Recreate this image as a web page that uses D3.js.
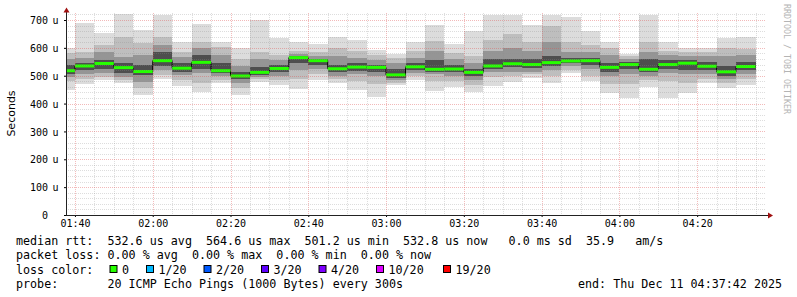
<!DOCTYPE html>
<html>
<head>
<meta charset="utf-8">
<script src="https://cdn.jsdelivr.net/npm/d3@7"></script>
<style>
  body { margin: 0; background: #fff; }
  svg { display: block; }
  text { font-family: "DejaVu Sans Mono", monospace; fill: #000; }
</style>
</head>
<body>
<svg id="chart" width="797" height="297"></svg>
<script>
// Data
const binStarts = ["01:35","01:40","01:45","01:50","01:55","02:00","02:05","02:10","02:15","02:20","02:25","02:30",
  "02:35","02:40","02:45","02:50","02:55","03:00","03:05","03:10","03:15","03:20","03:25","03:30",
  "03:35","03:40","03:45","03:50","03:55","04:00","04:05","04:10","04:15","04:20","04:25","04:30"];

const median  = [518,535,544,529,515,554,527,548,518,499,512,526,565,554,525,531,530,503,532,523,524,512,535,543,540,547,553,554,530,540,523,540,545,534,514,533];

// smoke bands (us), outermost first
const outerHi = [598,690,652,720,664,718,620,686,622,600,700,634,620,615,639,628,592,578,622,682,615,659,718,718,682,718,710,660,620,578,718,620,601,598,634,638];
const outerLo = [450,472,484,475,431,487,463,443,475,429,479,468,454,485,475,449,425,467,486,445,458,443,463,479,492,475,510,480,439,420,460,419,439,473,455,467];
const midHi   = [580,585,610,640,619,640,586,622,602,560,585,575,590,585,600,590,575,565,590,625,580,570,630,650,620,680,620,610,600,570,620,590,585,585,600,595];
const midLo   = [480,490,497,485,455,503,485,473,485,455,487,485,490,505,487,480,470,475,500,480,480,465,495,500,505,500,520,500,470,470,485,480,475,490,475,490];
const innerHi = [560,565,586,568,574,610,568,598,574,535,560,556,578,570,570,565,555,545,565,590,560,545,590,600,590,620,585,585,575,560,585,575,570,570,570,575];
const innerLo = [495,505,509,497,479,521,503,509,499,475,495,500,520,525,500,505,500,485,510,505,500,485,515,515,515,520,535,525,500,505,500,510,505,505,490,505];
const coreHi  = [540,545,556,547,539,586,545,574,545,515,530,540,570,560,540,545,540,525,545,555,540,525,560,560,560,570,565,565,545,550,560,555,555,550,535,550];
const coreLo  = [505,520,523,509,503,535,515,523,509,487,503,512,545,540,512,518,515,492,520,515,512,500,525,530,528,535,545,540,515,525,512,525,520,520,500,520];

const yTicks = [0,100,200,300,400,500,600,700];
const xTickLabels = ["01:40","02:00","02:20","02:40","03:00","03:20","03:40","04:00","04:20"];

const lossLabels = ["0","1/20","2/20","3/20","4/20","10/20","19/20"];
const lossColors = ["#26ff00","#00b8ff","#0059ff","#5e00ff","#7e00ff","#dd00ff","#ff0000"];

const legendLines = [
  "median rtt:  532.6 us avg  564.6 us max  501.2 us min  532.8 us now   0.0 ms sd  35.9   am/s",
  "packet loss: 0.00 % avg  0.00 % max  0.00 % min  0.00 % now",
  "loss color:",
  "probe:       20 ICMP Echo Pings (1000 Bytes) every 300s"
];
const endLabel = "end: Thu Dec 11 04:37:42 2025";

// Config
const PLOT = { left: 66, right: 766, top: 13, bottom: 215 };
const Y_MAX = 725;
const BAND_GRAYS = ["#dcdcdc", "#bebebe", "#959595", "#4e4e4e"];
const LOSS_BOX_X = [109.5, 146, 203.5, 261, 318.5, 376, 443];
const LEG_FONT = 11.7;

const parseHM = d3.timeParse("%H:%M");
const parseHMS = d3.timeParse("%H:%M:%S");
const tStart = parseHMS("01:37:42");
const tEnd = parseHMS("04:37:42");

const x = d3.scaleTime().domain([tStart, tEnd]).range([PLOT.left, PLOT.right]);
const y = d3.scaleLinear().domain([0, 700]).range([PLOT.bottom, 20]);

const svg = d3.select("#chart");

svg.append("defs").append("clipPath").attr("id", "plotclip")
  .append("rect")
  .attr("x", PLOT.left).attr("y", y(Y_MAX))
  .attr("width", PLOT.right - PLOT.left).attr("height", PLOT.bottom - y(Y_MAX));

const bins = binStarts.map((s, i) => {
  const t0 = parseHM(s);
  return {
    t0, t1: d3.timeMinute.offset(t0, 5), med: median[i],
    bands: [[outerLo[i], outerHi[i]], [midLo[i], midHi[i]], [innerLo[i], innerHi[i]], [coreLo[i], coreHi[i]]]
  };
});

// Smoke
const plotG = svg.append("g").attr("clip-path", "url(#plotclip)");
BAND_GRAYS.forEach((col, b) => {
  plotG.append("g").selectAll("rect").data(bins).join("rect")
    .attr("x", d => x(d.t0))
    .attr("width", d => x(d.t1) - x(d.t0))
    .attr("y", d => y(d.bands[b][1]))
    .attr("height", d => y(d.bands[b][0]) - y(d.bands[b][1]))
    .attr("fill", col)
    .attr("shape-rendering", "crispEdges");
});

// Grid
const gridG = svg.append("g");
const minorV = d3.timeMinute.every(5).range(tStart, tEnd).filter(t => t.getMinutes() % 20 !== 0);
const majorV = d3.timeMinute.every(20).range(tStart, tEnd);
const minorH = d3.range(20, Y_MAX, 20).filter(v => v % 100 !== 0);
const majorH = yTicks.filter(v => v > 0);

function hLines(vals, color, op) {
  gridG.append("g").selectAll("line").data(vals).join("line")
    .attr("x1", PLOT.left).attr("x2", PLOT.right)
    .attr("y1", d => Math.round(y(d)) + 0.5).attr("y2", d => Math.round(y(d)) + 0.5)
    .attr("stroke", color).attr("stroke-opacity", op).attr("stroke-dasharray", "1,1");
}
function vLines(vals, color, op) {
  gridG.append("g").selectAll("line").data(vals).join("line")
    .attr("x1", d => Math.round(x(d)) + 0.5).attr("x2", d => Math.round(x(d)) + 0.5)
    .attr("y1", y(Y_MAX)).attr("y2", PLOT.bottom)
    .attr("stroke", color).attr("stroke-opacity", op).attr("stroke-dasharray", "1,1");
}
hLines(minorH, "#8f8f8f", 0.3);
vLines(minorV, "#8f8f8f", 0.3);
hLines(majorH, "#de5050", 0.4);
vLines(majorV, "#de5050", 0.4);

// Median
const stepPts = bins.map(d => [d.t0, d.med]);
stepPts.push([bins[bins.length - 1].t1, bins[bins.length - 1].med]);
plotG.append("path")
  .attr("d", d3.line().x(d => x(d[0])).y(d => y(d[1])).curve(d3.curveStepAfter)(stepPts))
  .attr("fill", "none").attr("stroke", "#000").attr("stroke-width", 1);
plotG.append("g").selectAll("line").data(bins).join("line")
  .attr("x1", d => x(d.t0)).attr("x2", d => x(d.t1))
  .attr("y1", d => y(d.med)).attr("y2", d => y(d.med))
  .attr("stroke", lossColors[0]).attr("stroke-width", 3);

// Axes
const yAxisG = svg.append("g").attr("transform", `translate(${PLOT.left},0)`)
  .call(d3.axisLeft(y).tickValues(yTicks).tickSize(2).tickPadding(16).tickFormat(d => d));
yAxisG.select(".domain").remove();
yAxisG.selectAll("text").attr("font-size", 10).attr("font-family", "DejaVu Sans Mono").attr("dy", "0.36em");
yAxisG.selectAll(".tick").filter(d => d > 0).append("text")
  .attr("x", 52.5 - PLOT.left).attr("dy", "0.36em")
  .attr("font-size", 10).attr("text-anchor", "start").attr("fill", "#000").text("u");

const xTickDates = xTickLabels.map(parseHM);
const xAxisG = svg.append("g").attr("transform", `translate(0,${PLOT.bottom})`)
  .call(d3.axisBottom(x).tickValues(xTickDates).tickSize(2).tickPadding(3).tickFormat(d3.timeFormat("%H:%M")));
xAxisG.select(".domain").remove();
xAxisG.selectAll("text").attr("font-size", 10).attr("font-family", "DejaVu Sans Mono");

svg.append("line").attr("x1", PLOT.left + 0.5).attr("x2", PLOT.left + 0.5)
  .attr("y1", PLOT.bottom).attr("y2", 10).attr("stroke", "#222");
svg.append("line").attr("x1", PLOT.left).attr("x2", PLOT.right + 4)
  .attr("y1", PLOT.bottom + 0.5).attr("y2", PLOT.bottom + 0.5).attr("stroke", "#222");
svg.append("path").attr("d", `M${PLOT.left - 2.5},12.5 L${PLOT.left + 0.5},7.5 L${PLOT.left + 3.5},12.5 Z`).attr("fill", "#a01010");
svg.append("path").attr("d", `M${PLOT.right + 2},${PLOT.bottom - 2.5} L${PLOT.right + 7},${PLOT.bottom + 0.5} L${PLOT.right + 2},${PLOT.bottom + 3.5} Z`).attr("fill", "#a01010");

// Titles
svg.append("text")
  .attr("transform", `translate(15,${113.5}) rotate(-90)`)
  .attr("text-anchor", "middle")
  .style("font-family", "'DejaVu Sans', sans-serif").attr("font-size", 11)
  .text("Seconds");

svg.append("text")
  .attr("transform", "translate(784,4) rotate(90)")
  .attr("font-size", 8.3).style("fill", "#b4b4b4")
  .text("RRDTOOL / TOBI OETIKER");

// Legend
const LEG_Y = [244.5, 259, 273.5, 288];
svg.append("g").selectAll("text").data(legendLines).join("text")
  .attr("x", 16).attr("y", (d, i) => LEG_Y[i])
  .attr("font-size", LEG_FONT).style("white-space", "pre")
  .text(d => d);

const lossG = svg.append("g").selectAll("g").data(lossLabels).join("g")
  .attr("transform", (d, i) => `translate(${LOSS_BOX_X[i]},265)`);
lossG.append("rect").attr("x", 0.5).attr("y", 0.5).attr("width", 7).attr("height", 7)
  .attr("fill", (d, i) => lossColors[i]).attr("stroke", "#000");
lossG.append("text").attr("x", 12.5).attr("y", LEG_Y[2] - 265)
  .attr("font-size", LEG_FONT).text(d => d);

svg.append("text").attr("x", 578).attr("y", LEG_Y[3])
  .attr("font-size", LEG_FONT).style("white-space", "pre").text(endLabel);
</script>
</body>
</html>
